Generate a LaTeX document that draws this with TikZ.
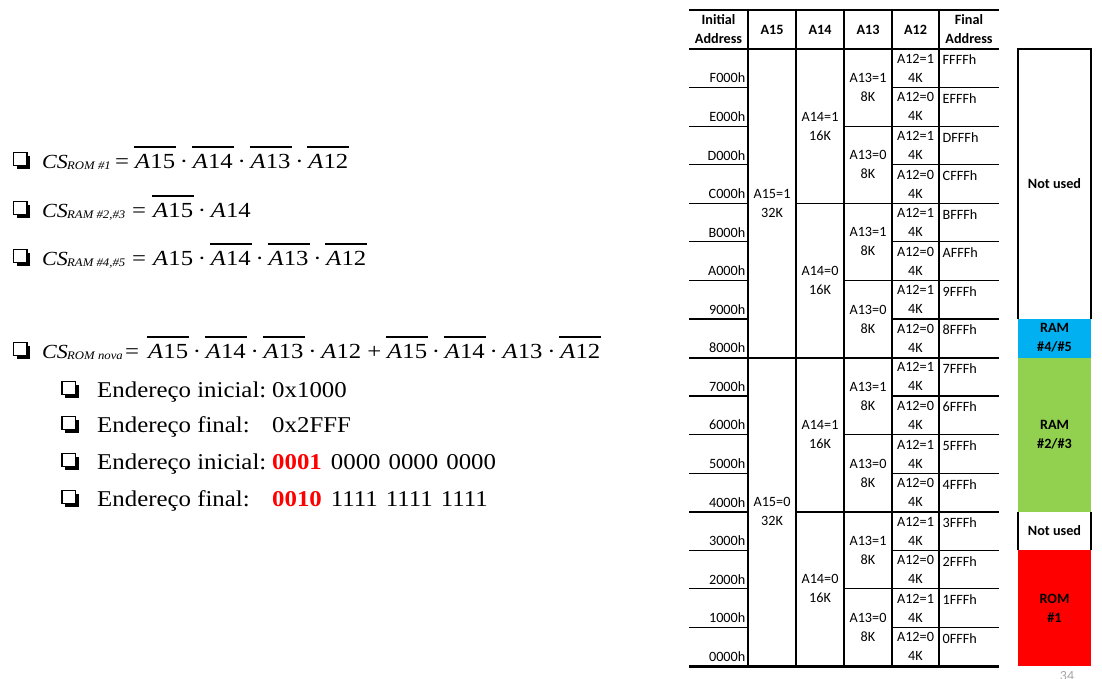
\documentclass[tikz,border=0pt]{standalone}
\usepackage{fontspec}
\setmainfont{Liberation Serif}
\newfontfamily\lser[FakeStretch=1.1]{Liberation Serif}
\newfontfamily\lserm[FakeStretch=1.15]{Liberation Serif}
\newfontfamily\calib{Carlito}
\definecolor{ramblue}{HTML}{00B0F0}
\definecolor{ramgreen}{HTML}{92D050}
\definecolor{romred}{HTML}{FF0000}
\definecolor{pggray}{HTML}{A6A6A6}
\newcommand\ovA[1]{\vbox{\hrule height 1.6pt\kern 6.2pt\hbox to 42pt{\hss\textit{A}#1\hss}}}
\newcommand\plA[1]{\hbox to 42pt{\hss\textit{A}#1\hss}}
\newcommand\sepd{\hbox to 15.7pt{\hss·\hss}}
\newcommand\csbox[2]{\hbox to 25pt{{\lser\fontsize{20}{24}\selectfont\itshape CS}\hss}\hbox to #1pt{\raisebox{-1pt}{\lser\fontsize{11.6}{12}\selectfont\itshape #2}\hss}}
\newcommand\eqbox[1]{\hbox to #1pt{=\hss}}
\newcommand\plusbox{\hbox to 23.9pt{\hss+\hss}}
\newcommand\cbx[2]{%
  \fill (#1+3,#2-12.5) rectangle (#1+16.5,#2+0.5);
  \draw[line width=1.2pt, fill=white] (#1,#2-15.5) rectangle (#1+13.5,#2-2.5);}
\begin{document}
\begin{tikzpicture}[x=1pt,y=-1pt,
  tbl/.style={inner sep=0pt, align=center, font=\calib\fontsize{14.2}{19}\selectfont},
  hdr/.style={inner sep=0pt, align=center, font=\calib\bfseries\fontsize{14.2}{19}\selectfont},
  mm/.style={inner sep=0pt, minimum width=73, align=center, font=\calib\bfseries\fontsize{14.2}{19}\selectfont},
  fml/.style={anchor=base west, inner sep=0pt, font=\lserm\fontsize{21.5}{24}\selectfont},
  subl/.style={anchor=base west, inner sep=0pt, font=\lser\fontsize{22.6}{27}\selectfont},
  rl/.style={line width=1.2pt},
  rl4/.style={line width=1.5pt},
  rl8/.style={line width=2pt}]
\useasboundingbox (0,0) rectangle (1102,678);

% ---------- left text ----------
\cbx{13.5}{168}
\node[fml] (f1) at (42,168) {\csbox{48}{ROM \#1}\eqbox{19}\ovA{15}\sepd\ovA{14}\sepd\ovA{13}\sepd\ovA{12}};
\cbx{13.5}{217}
\node[fml] (f2) at (42,217) {\csbox{65}{RAM \#2,\#3}\eqbox{20}\ovA{15}\sepd\plA{14}};
\cbx{13.5}{265}
\node[fml] (f3) at (42,265) {\csbox{65}{RAM \#4,\#5}\eqbox{20}\plA{15}\sepd\ovA{14}\sepd\ovA{13}\sepd\ovA{12}};
\cbx{13.5}{358.3}
\node[fml] (f4) at (42,358.3) {\csbox{58}{ROM nova}\eqbox{22}\ovA{15}\sepd\ovA{14}\sepd\ovA{13}\sepd\plA{12}\plusbox\ovA{15}\sepd\ovA{14}\sepd\plA{13}\sepd\ovA{12}};

\cbx{62}{397}
\node[subl] (s1) at (97,397) {\hbox to 175pt{Endereço inicial:\hss}0x1000};
\cbx{62}{432}
\node[subl] (s2) at (97,432) {\hbox to 175pt{Endereço final:\hss}0x2FFF};
\cbx{62}{469}
\node[subl] (s3) at (97,469) {\hbox to 175pt{Endereço inicial:\hss}\textcolor{romred}{\bfseries 0001}\hspace{9pt}0000\hspace{8pt}0000\hspace{8pt}0000};
\cbx{62}{506}
\node[subl] (s4) at (97,506) {\hbox to 175pt{Endereço final:\hss}\textcolor{romred}{\bfseries 0010}\hspace{9pt}1111\hspace{8pt}1111\hspace{8pt}1111};

% ---------- table ----------
\node[hdr] (hia) at (718.5,29.5) {Initial\\Address};
\node[hdr] (h15) at (772,29.5) {A15};
\node[hdr] (h14) at (820,29.5) {A14};
\node[hdr] (h13) at (868,29.5) {A13};
\node[hdr] (h12) at (915.5,29.5) {A12};
\node[hdr] (hfa) at (969,29.5) {Final\\Address};

\foreach \x in {748,796,844,892,939} \draw[rl] (\x,10) -- (\x,666);

\foreach \i in {1,...,15} {
  \pgfmathsetmacro\yy{49+\i*38.5625}
  \pgfmathtruncatemacro\m{mod(\i,2)}
  \pgfmathtruncatemacro\q{mod(\i,4)}
  \draw[rl] (689,\yy) -- (748,\yy);
  \draw[rl] (892,\yy) -- (999,\yy);
  \ifnum\m=0 \draw[rl] (844,\yy) -- (892,\yy); \fi
  \ifnum\q=0 \draw[rl4] (689,\yy) -- (748,\yy) (796,\yy) -- (999,\yy); \fi
}
\draw[rl8] (689,357.5) -- (999,357.5);
\draw[line width=2pt] (689,10) -- (999,10);
\draw[line width=2.6pt] (689,49) -- (999,49);
\draw[line width=3pt] (689,666) -- (999,666);

\foreach \i/\h in {0/F,1/E,2/D,3/C,4/B,5/A,6/9,7/8,8/7,9/6,10/5,11/4,12/3,13/2,14/1,15/0} {
  \pgfmathsetmacro\ya{49+\i*38.5625}
  \pgfmathtruncatemacro\b{1-mod(\i,2)}
  \node[tbl, anchor=east] (ia\i) at (745.5,\ya+29) {\h000h};
  \node[tbl, anchor=west] (fa\i) at (942.5,\ya+11) {\h FFFh};
  \node[tbl] (b12n\i) at (915.5,\ya+19.3) {A12=\b\\4K};
}
\foreach \j in {0,...,7} {
  \pgfmathsetmacro\yc{49+(2*\j+1)*38.5625}
  \pgfmathtruncatemacro\b{1-mod(\j,2)}
  \node[tbl] (b13n\j) at (868,\yc) {A13=\b\\8K};
}
\foreach \j in {0,...,3} {
  \pgfmathsetmacro\yc{49+(4*\j+2)*38.5625}
  \pgfmathtruncatemacro\b{1-mod(\j,2)}
  \node[tbl] (b14n\j) at (820,\yc) {A14=\b\\16K};
}
\node[tbl] (b15n0) at (772,203.25) {A15=1\\32K};
\node[tbl] (b15n1) at (772,511.75) {A15=0\\32K};

% ---------- memory map ----------
\node[mm, fill=white, minimum height=269.9] (nu1) at (1054.5,183.95) {Not used};
\draw[line width=1.6pt] (nu1.south west) -- (nu1.north west) -- (nu1.north east) -- (nu1.south east);
\node[mm, fill=white, minimum height=38.56] (nu2) at (1054.5,531) {Not used};
\draw[line width=1.6pt] (nu2.north west) -- (nu2.south west) (nu2.north east) -- (nu2.south east);
\node[mm, fill=ramblue, minimum height=38.6] (ram45) at (1054.5,338.2) {RAM\\\#4/\#5};
\node[mm, fill=ramgreen, minimum height=154.2] (ram23) at (1054.5,434.6) {RAM\\\#2/\#3};
\node[mm, fill=romred, minimum height=115.75] (rom1) at (1054.5,608.1) {ROM\\\#1};

\node[anchor=north, inner sep=0pt, text=pggray, font=\calib\fontsize{14}{14}\selectfont] (pg) at (1067,671) {34};
\end{tikzpicture}
\end{document}
